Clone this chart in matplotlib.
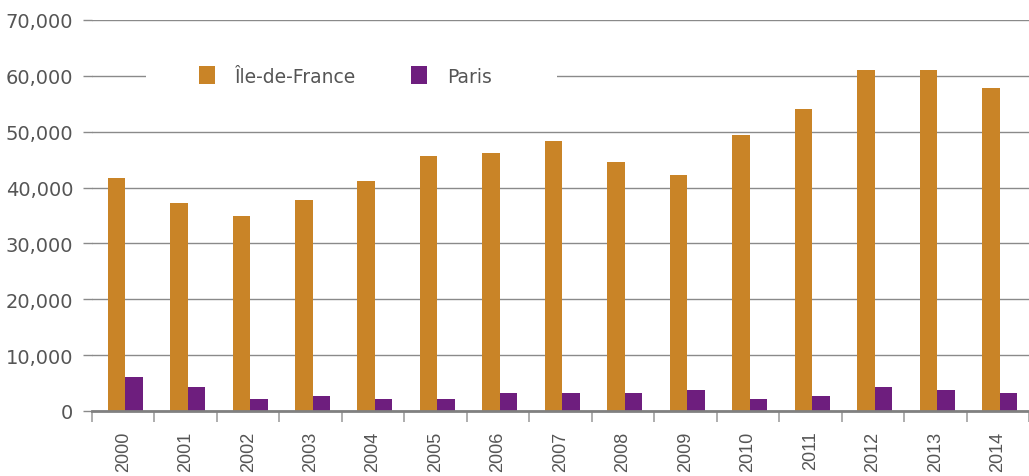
import matplotlib
matplotlib.use('Agg')
import matplotlib.pyplot as plt
from matplotlib.patches import Rectangle
import numpy as np

# ── Data ──────────────────────────────────────────────────────────────────────
years = ['2000', '2001', '2002', '2003', '2004', '2005', '2006', '2007',
         '2008', '2009', '2010', '2011', '2012', '2013', '2014']
idf   = [41700, 37200, 34900, 37700, 41100, 45600, 46100, 48300,
         44500, 42200, 49500, 54000, 61100, 61100, 57900]
paris = [6100, 4300, 2200, 2700, 2200, 2200, 3200, 3200,
         3200, 3800, 2200, 2700, 4300, 3800, 3200]

C_IDF   = '#C98427'
C_PARIS = '#6E1E7E'
GRID    = '#8a8a8a'
TXT     = '#555555'

W, H = 1029, 477
fig = plt.figure(figsize=(W / 100, H / 100), dpi=100)
ax = fig.add_axes([92/W, 1 - 412/H, 1 - 92/W, (412 - 21)/H])
ax.set_axisbelow(True)

x = np.arange(len(years))
w = 0.28
ax.bar(x - 0.11, idf, w, color=C_IDF, label='Île-de-France', zorder=3)
ax.bar(x + 0.17, paris, w, color=C_PARIS, label='Paris', zorder=3)

ax.set_xlim(-0.5, len(years) - 0.5)
ax.set_ylim(0, 70000)
ax.set_yticks(np.arange(0, 70001, 10000))
ax.set_yticklabels([f'{v:,}' for v in range(0, 70001, 10000)],
                   fontsize=14, color=TXT, family='DejaVu Sans')
ax.yaxis.grid(True, color=GRID, lw=1.0)
ax.tick_params(axis='y', length=6.5, width=1.0, color=GRID, pad=7)

ax.set_xticks(x)
ax.set_xticklabels(years, rotation=90, fontsize=13, color=TXT,
                   family='Liberation Sans')
ax.set_xticks(np.arange(-0.5, len(years)), minor=True)
ax.tick_params(axis='x', which='major', length=0, pad=14)
ax.tick_params(axis='x', which='minor', length=8, width=1.2, color='#a0a0a0')

for s in ['top', 'right', 'left']:
    ax.spines[s].set_visible(False)
ax.spines['bottom'].set_color('#808080')
ax.spines['bottom'].set_linewidth(2)
ax.spines['bottom'].set_zorder(4)

# white block behind the legend that interrupts the 60,000 gridline
ax.add_patch(Rectangle((146/W, 1 - 92/H), (557 - 146)/W, 30/H,
                       transform=fig.transFigure, facecolor='white',
                       edgecolor='none', zorder=1))

leg = ax.legend(loc='center', ncol=2, frameon=False, fontsize=13.5,
                handlelength=0.85, handleheight=1.1, columnspacing=2.9,
                handletextpad=1.1, borderpad=0.3,
                bbox_to_anchor=(345.5/W, 1 - 77/H),
                bbox_transform=fig.transFigure)
for t in leg.get_texts():
    t.set_color(TXT)

fig.savefig('out.png', dpi=100)
